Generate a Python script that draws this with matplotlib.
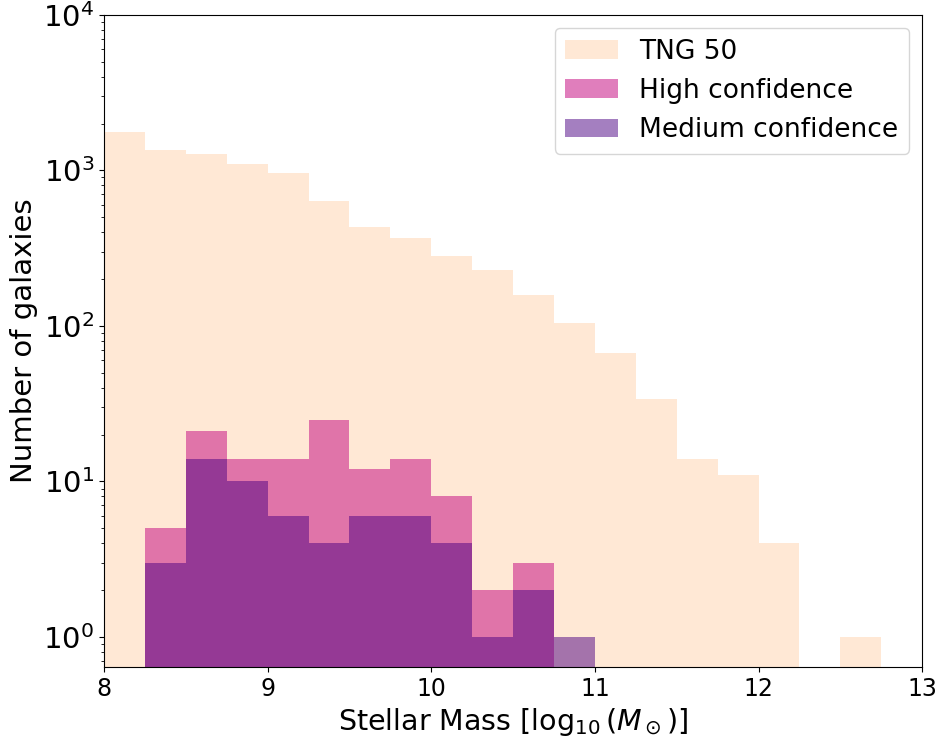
import numpy as np
import matplotlib
matplotlib.use("Agg")
import matplotlib.pyplot as plt

# bin edges in log10(M*/Msun)
bin_edges = np.arange(8.0, 13.01, 0.25)
bin_centres = bin_edges[:-1] + 0.125

tng50_counts = [1760, 1360, 1280, 1100, 960, 640, 435, 365, 280, 230, 158, 104, 67,
                34, 14, 11, 4, 0, 1, 0]
high_conf_counts = [0, 5, 21, 14, 14, 25, 12, 14, 8, 2, 3, 0, 0,
                    0, 0, 0, 0, 0, 0, 0]
medium_conf_counts = [0, 3, 14, 10, 6, 4, 6, 6, 4, 1, 2, 1, 0,
                      0, 0, 0, 0, 0, 0, 0]

fig, ax = plt.subplots(figsize=(9.41, 7.42), dpi=100)
fig.subplots_adjust(left=0.1105, right=0.98, top=0.98, bottom=0.101)

ax.hist(bin_centres, bins=bin_edges, weights=tng50_counts, log=True,
        color='peachpuff', alpha=0.6, label='TNG 50')
ax.hist(bin_centres, bins=bin_edges, weights=high_conf_counts, log=True,
        color='mediumvioletred', alpha=0.55, label='High confidence')
ax.hist(bin_centres, bins=bin_edges, weights=medium_conf_counts, log=True,
        color='indigo', alpha=0.5, label='Medium confidence')

ax.set_xlim(8, 13)
ax.set_ylim(0.64, 1e4)
ax.set_xticks([8, 9, 10, 11, 12, 13])
ax.tick_params(axis='x', labelsize=17)
ax.tick_params(axis='y', labelsize=21)
ax.set_xlabel(r'Stellar Mass [$\log_{10}(M_\odot)$]', fontsize=20.5)
ax.set_ylabel('Number of galaxies', fontsize=21)
ax.legend(loc='upper right', fontsize=19)

plt.savefig('out.png', dpi=100)
